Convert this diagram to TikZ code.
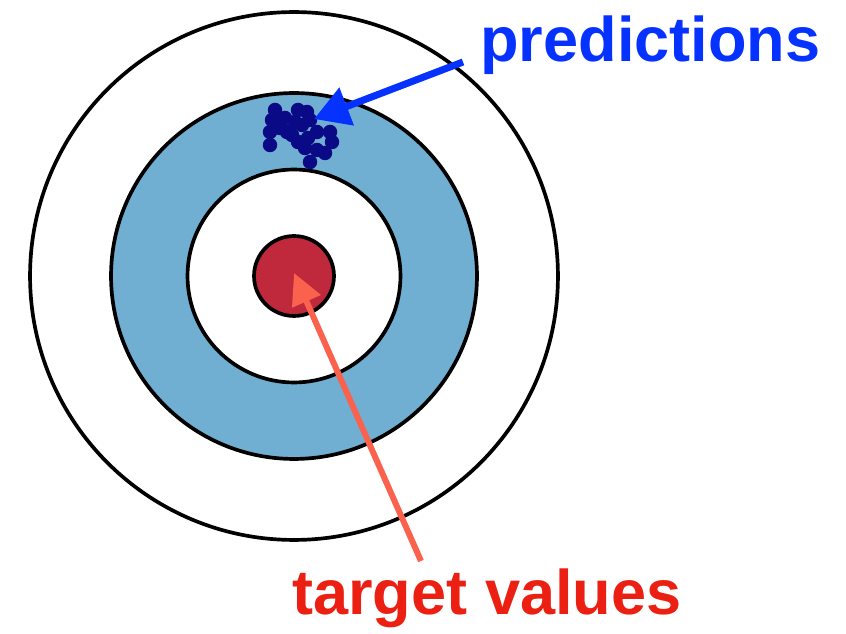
\documentclass[tikz,border=0pt]{standalone}
\usepackage{fontspec}
\setmainfont{Liberation Sans}
\usepackage{xcolor}
\usetikzlibrary{arrows.meta}
\definecolor{ringblue}{RGB}{112,174,210}
\definecolor{bullred}{RGB}{192,40,60}
\definecolor{dotnavy}{RGB}{10,10,135}
\definecolor{predblue}{RGB}{5,50,255}
\definecolor{targred}{RGB}{236,32,18}
\definecolor{arrred}{RGB}{250,98,78}

\begin{document}
\begin{tikzpicture}[x=0.02cm,y=-0.02cm,ring/.style={draw,line width=2.1pt},lbl/.style={anchor=base west,inner sep=0,font=\bfseries\fontsize{35.9}{36}\selectfont},dot/.style={fill=dotnavy,draw=none},parr/.style={-{Triangle[length=0.7cm,width=0.78cm]},line width=4pt,draw=predblue},tarr/.style={-{Triangle[length=0.62cm,width=0.6cm]},line width=3.4pt,draw=arrred}]
\useasboundingbox (0,0) rectangle (846,634);
\coordinate (mid) at (294,276);
\draw[ring,fill=white] (mid) circle[radius=5.28cm];
\draw[ring,fill=ringblue] (mid) circle[radius=3.66cm];
\draw[ring,fill=white] (mid) circle[radius=2.13cm];
\draw[ring,fill=bullred] (mid) circle[radius=0.8cm];
% prediction cluster
\foreach \px/\py in {275/110,272/120,270/132,270/145,280/128,287/132,298/110,307/112,295/122,302/125,292/135,298/142,308/138,317/132,330/132,332/142,325/153,317/150,310/162,305/148,310/120,285/118}
  \fill[dot] (\px,\py) circle[radius=0.145cm];
\node[lbl,text=predblue] (pred) at (480,62) {predictions};
\node[lbl,text=targred] (targ) at (292,615) {target values};
\coordinate (ptail) at (463,62);
\coordinate (ptip) at (314,119);
\coordinate (ttail) at (421,561);
\coordinate (ttip) at (294,273);
\draw[parr] (ptail)--(ptip);
\draw[tarr] (ttail)--(ttip);
\end{tikzpicture}
\end{document}
